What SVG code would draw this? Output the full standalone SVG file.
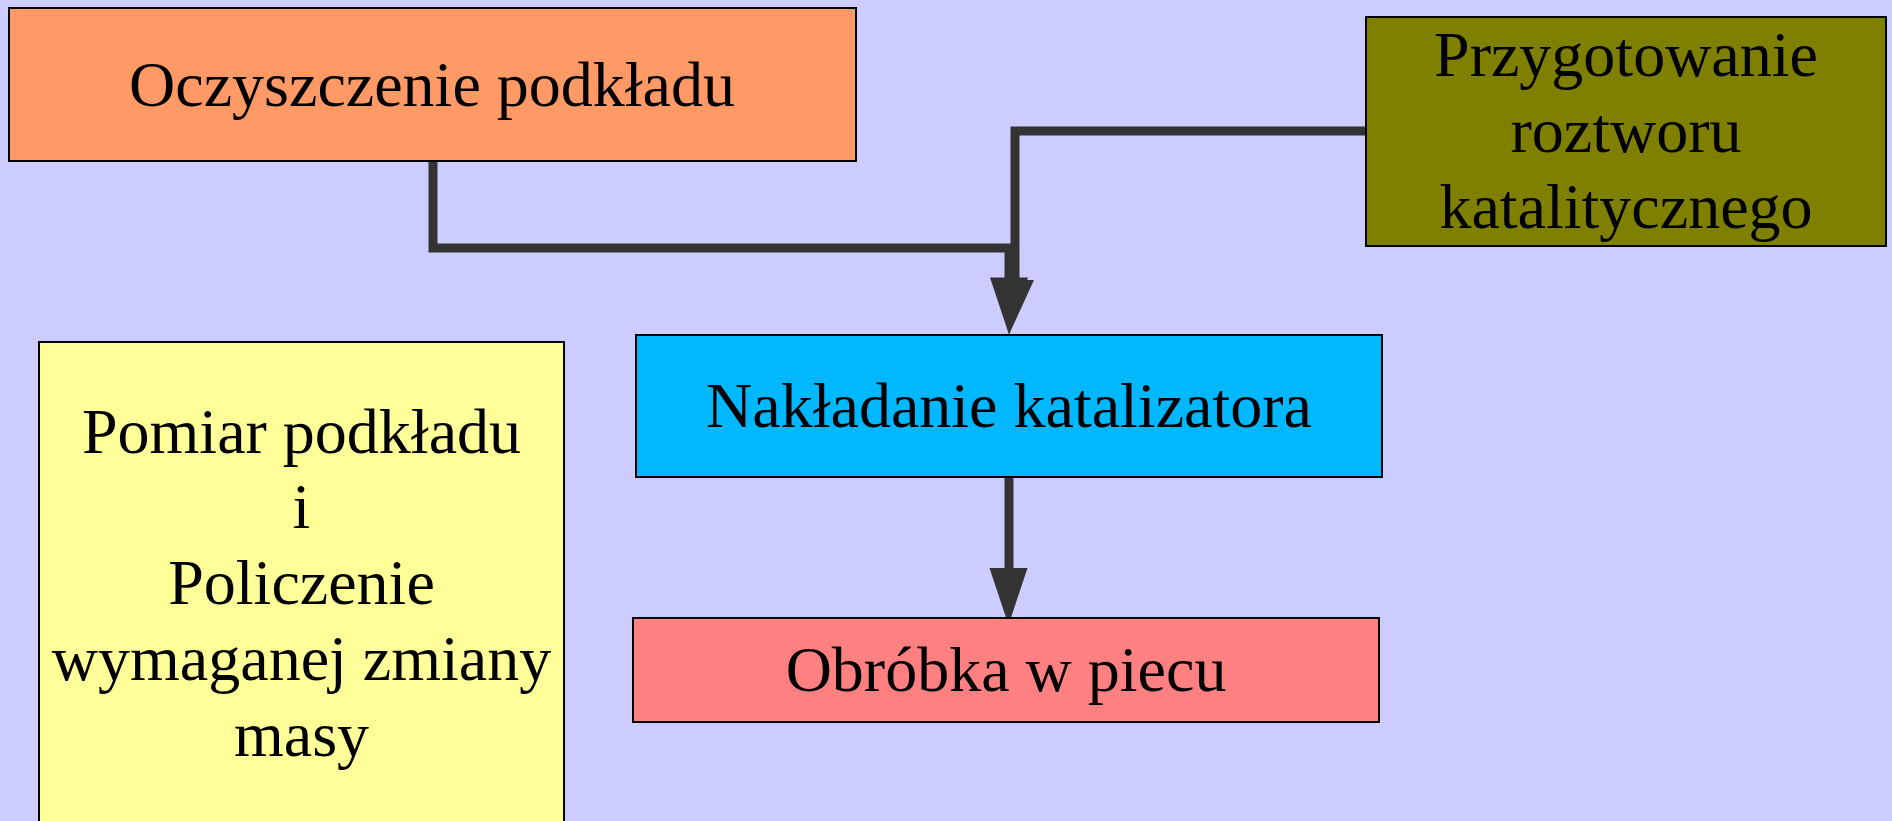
<svg xmlns="http://www.w3.org/2000/svg" width="1892" height="821" viewBox="0 0 1892 821">
<style>
.box{stroke:#000;stroke-width:2}
.lbl{font-family:"Liberation Serif","Times New Roman",serif;font-size:64px;fill:#000;text-anchor:middle}
.conn{fill:none;stroke:#333;stroke-width:9;stroke-linejoin:miter}
.head{fill:#333;stroke:none}
</style>
<rect x="0" y="0" width="1892" height="821" fill="#ccccff"/>
<g id="connectors">
<path class="conn" d="M433,161 V248 H1009 V279"/>
<path class="conn" d="M1366,131 H1015 V281"/>
<polygon class="head" points="990,277.5 1028,277.5 1009,334.5"/>
<polygon class="head" points="996,280 1034,280 1009,334.5"/>
<path class="conn" d="M1009,478 V570"/>
<polygon class="head" points="989.5,568 1027.5,568 1008.5,625"/>
</g>
<g id="oczyszczenie">
<rect class="box" x="9" y="8" width="847" height="153" fill="#ff9966"/>
<text class="lbl" x="432" y="106">Oczyszczenie podkładu</text>
</g>
<g id="przygotowanie">
<rect class="box" x="1366" y="17" width="520" height="229" fill="#808000"/>
<text class="lbl" x="1626" y="76">Przygotowanie</text>
<text class="lbl" x="1626" y="152">roztworu</text>
<text class="lbl" x="1626" y="228">katalitycznego</text>
</g>
<g id="pomiar">
<rect class="box" x="39" y="342" width="525" height="490" fill="#ffff99"/>
<text class="lbl" x="301.5" y="453">Pomiar podkładu</text>
<text class="lbl" x="301.5" y="528">i</text>
<text class="lbl" x="301.5" y="604">Policzenie</text>
<text class="lbl" x="301.5" y="680">wymaganej zmiany</text>
<text class="lbl" x="301.5" y="756">masy</text>
</g>
<g id="nakladanie">
<rect class="box" x="636" y="335" width="746" height="142" fill="#00b8ff"/>
<text class="lbl" x="1009" y="427">Nakładanie katalizatora</text>
</g>
<g id="obrobka">
<rect class="box" x="633" y="618" width="746" height="104" fill="#ff8080"/>
<text class="lbl" x="1006" y="691">Obróbka w piecu</text>
</g>
</svg>
